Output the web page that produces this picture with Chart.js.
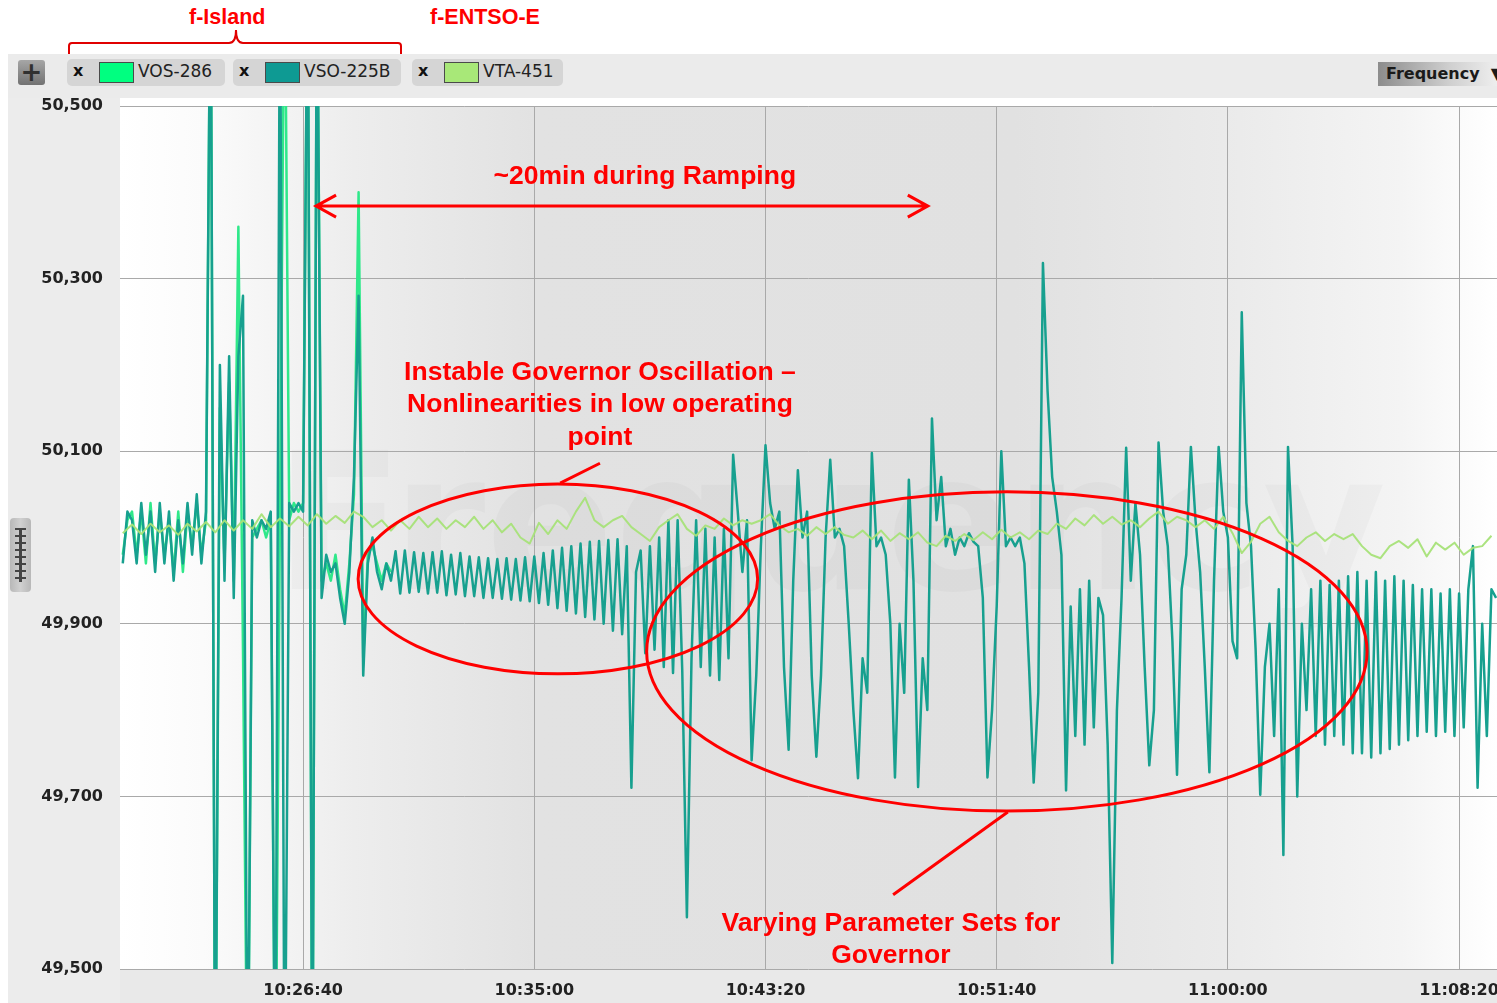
<!DOCTYPE html>
<html lang="en">
<head>
<meta charset="UTF-8">
<title>Frequency</title>
<script src="https://cdn.jsdelivr.net/npm/chart.js"></script>
<style>
  body { margin: 0; background: #fff; width: 1497px; height: 1003px; overflow: hidden; position: relative; font-family: "DejaVu Sans", sans-serif; }
  .red { position: absolute; color: #ff0000; font: bold 21.5px "Liberation Sans", Arial, sans-serif; }
  #bar { position: absolute; left: 8px; top: 54px; width: 1489px; height: 44px; background: #ebebeb; }
  #side { position: absolute; left: 8px; top: 98px; width: 112px; height: 905px; background: #ececec; }
  .plus { position: absolute; left: 18px; top: 60px; width: 27px; height: 25px; border-radius: 3px;
          background: linear-gradient(#a6a6a6, #727272); color: #303030; font: bold 26px "DejaVu Sans"; line-height: 24px; text-align: center; }
  .chip { position: absolute; top: 59px; height: 27px; border-radius: 5px; background: #d5d5d5; }
  .chip .x { position: absolute; left: 6px; top: 2px; font: bold 16px "DejaVu Sans"; color: #111; }
  .chip .box { position: absolute; left: 32px; top: 3px; width: 33px; height: 19px; border: 1px solid #4a4a4a; }
  .chip .lbl { position: absolute; left: 71px; top: 2px; font: 17px "DejaVu Sans"; color: #222; }
  #freq { position: absolute; left: 1378px; top: 62px; width: 119px; height: 24px;
          background: linear-gradient(90deg, #8c8c8c, #cfcfcf 60%, #eeeeee); font: bold 16px "DejaVu Sans"; color: #1a1a1a; line-height: 24px; padding-left: 8px; box-sizing: border-box; white-space: nowrap; overflow: hidden; }
  #ruler { position: absolute; z-index: 2; left: 10px; top: 518px; width: 21px; height: 74px; border-radius: 4px;
           background: linear-gradient(90deg, #b8b8b8, #d0d0d0, #b8b8b8); }
  #ruler .stem { position: absolute; left: 9px; top: 10px; width: 3px; height: 54px; background: #444; }
  #ruler .ticks { position: absolute; left: 5px; top: 10px; width: 11px; height: 54px;
                  background: repeating-linear-gradient(#444 0 2px, transparent 2px 7px); }
  canvas { position: absolute; left: 8px; top: 98px; z-index: 1; }
</style>
</head>
<body>
  <div class="red" style="left:189px; top:5px;">f-Island</div>
  <div class="red" style="left:430px; top:5px;">f-ENTSO-E</div>
  <svg style="position:absolute; left:0; top:0;" width="420" height="60">
    <path d="M69 58 L69 46 Q69 43 72 43 L229 43 Q236 43 236 30 Q236 43 243 43 L398 43 Q401 43 401 46 L401 58"
          fill="none" stroke="#e00000" stroke-width="2"/>
  </svg>

  <div id="bar"></div>
  <div id="side"></div>
  <div class="plus">+</div>
  <div class="chip" style="left:67px; width:158px;"><span class="x">x</span><span class="box" style="background:#00ff80"></span><span class="lbl">VOS-286</span></div>
  <div class="chip" style="left:233px; width:168px;"><span class="x">x</span><span class="box" style="background:#0e9a93"></span><span class="lbl">VSO-225B</span></div>
  <div class="chip" style="left:412px; width:151px;"><span class="x">x</span><span class="box" style="background:#a8e878"></span><span class="lbl">VTA-451</span></div>
  <div id="freq">Frequency &nbsp;▼</div>
  <div id="ruler"><div class="ticks"></div><div class="stem"></div></div>

  <canvas id="freqChart" width="1489" height="905"></canvas>

<script>
// time axis in seconds of the day, frequency in Hz
const xTicks = [37600, 38100, 38600, 39100, 39600, 40100];
const yTicks = [49.5, 49.7, 49.9, 50.1, 50.3, 50.5];

const tStart = 37210;   // first sample
const dtIsland = 10;    // s between island samples
const dtEntso = 20;     // s between ENTSO-E samples

// VSO-225B (f-Island)
const vso225b = [
  49.97, 50.03, 50.02, 49.97, 50.04, 49.98, 50.03, 49.96, 50.04, 49.97,
  50.03, 49.95, 50.02, 49.97, 50.04, 49.98, 50.05, 49.97, 50.03, 50.7,
  49.3, 50.20, 49.95, 50.21, 49.93, 50.21, 50.28, 49.3, 50.02, 50.00,
  50.02, 50.01, 50.03, 49.3, 50.7, 49.3, 50.04, 50.03, 50.04, 50.03,
  50.7, 49.3, 50.7, 49.93, 49.98, 49.96, 49.97, 49.93, 49.90, 49.96,
  50.07, 50.28, 49.84, 49.97, 50.00, 49.96, 49.94, 49.97, 49.95, 49.984,
  49.935, 49.985, 49.936, 49.983, 49.937, 49.982, 49.935, 49.983, 49.936, 49.984,
  49.933, 49.980, 49.934, 49.982, 49.932, 49.978, 49.932, 49.977, 49.930, 49.976,
  49.930, 49.975, 49.929, 49.976, 49.928, 49.975, 49.927, 49.977, 49.926, 49.978,
  49.924, 49.982, 49.922, 49.985, 49.918, 49.988, 49.915, 49.990, 49.912, 49.993,
  49.908, 49.995, 49.905, 49.996, 49.900, 49.997, 49.892, 49.998, 49.888, 49.99,
  49.71, 49.96, 49.985, 49.866, 49.99, 49.87, 50.00, 49.85, 50.02, 49.843,
  50.02, 49.845, 49.56, 49.86, 50.02, 49.85, 50.01, 49.84, 50.00, 49.835,
  50.01, 49.86, 50.096, 50.03, 49.96, 50.02, 49.742, 49.84, 49.99, 50.107,
  50.04, 50.01, 50.03, 49.85, 49.754, 49.95, 50.078, 50.00, 50.03, 49.84,
  49.746, 49.84, 50.00, 50.09, 50.00, 50.01, 49.99, 49.90, 49.80, 49.721,
  49.86, 49.82, 50.098, 49.99, 50.00, 49.98, 49.90, 49.722, 49.90, 49.82,
  50.067, 49.95, 49.711, 49.86, 49.80, 50.138, 50.02, 50.07, 49.99, 50.01,
  49.98, 50.00, 49.99, 50.005, 49.995, 49.99, 49.93, 49.722, 49.80, 49.92,
  50.10, 49.99, 50.00, 49.99, 50.00, 49.97, 49.85, 49.716, 49.82, 50.318,
  50.17, 50.07, 50.03, 49.98, 49.707, 49.92, 49.77, 49.94, 49.76, 49.95,
  49.78, 49.93, 49.91, 49.76, 49.507, 49.80, 49.93, 50.104, 49.95, 50.04,
  49.98, 49.85, 49.736, 49.80, 50.11, 50.03, 49.99, 49.88, 49.725, 49.94,
  49.98, 50.105, 50.02, 49.96, 49.85, 49.728, 49.95, 50.105, 50.03, 50.00,
  49.88, 49.86, 50.261, 50.04, 49.99, 49.87, 49.702, 49.85, 49.90, 49.77,
  49.94, 49.632, 50.105, 49.99, 49.70, 49.90, 49.80, 49.94, 49.77, 49.95,
  49.76, 49.945, 49.77, 49.95, 49.76, 49.955, 49.75, 49.96, 49.75, 49.95,
  49.745, 49.96, 49.75, 49.95, 49.755, 49.955, 49.76, 49.95, 49.765, 49.945,
  49.77, 49.94, 49.775, 49.94, 49.77, 49.935, 49.775, 49.94, 49.77, 49.935,
  49.78, 49.94, 49.99, 49.71, 49.90, 49.77, 49.94, 49.93
];

// VOS-286 (f-Island), only visible apart from VSO-225B at the start
const vos286 = [
  49.98, 50.02, 50.03, 49.98, 50.03, 49.97, 50.04, 49.97, 50.03, 49.98,
  50.02, 49.96, 50.03, 49.96, 50.03, 49.99, 50.04, 49.98, 50.02, 50.7,
  49.3, 50.15, 49.97, 50.18, 49.95, 50.36, 49.87, 49.3, 50.00, 50.01,
  50.02, 50.00, 50.02, 49.3, 50.03, 50.7, 50.02, 50.04, 50.03, 50.04,
  50.7, 49.3, 50.7, 49.95, 49.97, 49.95, 49.98, 49.94, 49.91, 49.97,
  50.05, 50.40, 49.86, 49.98, 49.99, 49.97, 49.95, 49.97, 49.96
];

// VTA-451 (f-ENTSO-E)
const vta451 = [
  50.005, 50.015, 50.004, 50.016, 50.006, 50.014, 50.003, 50.016, 50.007, 50.018,
  50.006, 50.020, 50.008, 50.020, 50.010, 50.027, 50.012, 50.022, 50.013, 50.024,
  50.014, 50.027, 50.016, 50.025, 50.017, 50.030, 50.024, 50.012, 50.020, 50.008,
  50.020, 50.010, 50.024, 50.012, 50.022, 50.010, 50.020, 50.012, 50.024, 50.010,
  50.020, 50.006, 50.016, 50.000, 49.993, 50.017, 50.004, 50.020, 50.010, 50.030,
  50.046, 50.020, 50.012, 50.020, 50.025, 50.012, 50.004, 49.996, 50.012, 50.020,
  50.027, 50.010, 50.002, 50.014, 50.010, 50.022, 50.014, 50.020, 50.016, 50.020,
  50.027, 50.014, 50.006, 50.010, 50.002, 50.012, 50.004, 50.012, 50.003, 50.000,
  50.008, 49.998, 50.008, 49.996, 50.005, 49.998, 50.006, 49.994, 49.990, 50.002,
  49.996, 50.004, 49.997, 50.006, 49.998, 50.009, 50.000, 50.006, 49.998, 50.008,
  50.004, 50.016, 50.010, 50.022, 50.014, 50.026, 50.016, 50.024, 50.015, 50.020,
  50.012, 50.022, 50.030, 50.016, 50.024, 50.020, 50.012, 50.020, 50.010, 50.024,
  50.005, 49.982, 49.995, 50.016, 50.024, 50.006, 49.996, 49.990, 50.000, 50.006,
  49.996, 50.004, 49.998, 50.004, 49.990, 49.980, 49.976, 49.990, 49.996, 49.988,
  49.998, 49.978, 49.994, 49.986, 49.994, 49.980, 49.988, 49.990, 50.002
];

function toPoints(arr, dt) {
  return arr.map((v, i) => ({ x: tStart + i * dt, y: v }));
}

function hms(sec) {
  const h = Math.floor(sec / 3600), m = Math.floor(sec % 3600 / 60), s = sec % 60;
  return h + ':' + String(m).padStart(2, '0') + ':' + String(s).padStart(2, '0');
}

// annotations, in axis units
const red = '#ff0000';
const annoFont = 'bold 26.5px "Liberation Sans", Arial, sans-serif';

const backgroundPlugin = {
  id: 'bg',
  beforeDraw(chart) {
    const { ctx, chartArea: a } = chart;
    ctx.save();
    ctx.fillStyle = '#e9e9e9';
    ctx.fillRect(a.left, a.bottom, a.right - a.left, chart.height - a.bottom);
    const g = ctx.createLinearGradient(a.left, 0, a.right, 0);
    g.addColorStop(0, '#ffffff');
    g.addColorStop(0.06, '#fbfbfb');
    g.addColorStop(0.17, '#ededed');
    g.addColorStop(0.3, '#e2e2e2');
    g.addColorStop(0.65, '#e1e1e1');
    g.addColorStop(0.8, '#eaeaea');
    g.addColorStop(0.93, '#f4f4f4');
    g.addColorStop(1, '#ffffff');
    ctx.fillStyle = g;
    ctx.fillRect(a.left, a.top, a.right - a.left, a.bottom - a.top);
    // faint watermark
    const xs = chart.scales.x, ys = chart.scales.y;
    ctx.fillStyle = 'rgba(0,0,0,0.022)';
    ctx.font = 'bold 190px "DejaVu Sans", sans-serif';
    ctx.textAlign = 'center';
    ctx.textBaseline = 'middle';
    ctx.fillText('Frequency', xs.getPixelForValue(38740), ys.getPixelForValue(49.997));
    ctx.restore();
  }
};

const annotationPlugin = {
  id: 'notes',
  afterDraw(chart) {
    const { ctx } = chart;
    const xs = chart.scales.x, ys = chart.scales.y;
    const px = t => xs.getPixelForValue(t);
    const py = f => ys.getPixelForValue(f);
    ctx.save();
    ctx.strokeStyle = red;
    ctx.fillStyle = red;
    ctx.lineWidth = 3;

    // ellipses
    [[38151, 49.952, 432, 0.110], [39122, 49.868, 779, 0.185]].forEach(([t, f, dt, df]) => {
      const cx = px(t), cy = py(f);
      ctx.beginPath();
      ctx.ellipse(cx, cy, px(t + dt) - cx, cy - py(f + df), 0, 0, Math.PI * 2);
      ctx.stroke();
    });

    // leader lines
    ctx.beginPath();
    ctx.moveTo(px(38242), py(50.086)); ctx.lineTo(px(38156), py(50.063));
    ctx.moveTo(px(39124), py(49.682)); ctx.lineTo(px(38876), py(49.586));
    ctx.stroke();

    // double arrow
    const ay = py(50.384), ax1 = px(37628), ax2 = px(38951);
    ctx.beginPath();
    ctx.moveTo(ax1, ay); ctx.lineTo(ax2, ay);
    ctx.moveTo(ax1 + 20, ay - 11); ctx.lineTo(ax1, ay); ctx.lineTo(ax1 + 20, ay + 11);
    ctx.moveTo(ax2 - 20, ay - 11); ctx.lineTo(ax2, ay); ctx.lineTo(ax2 - 20, ay + 11);
    ctx.stroke();

    // texts
    ctx.font = annoFont;
    ctx.textAlign = 'center';
    ctx.textBaseline = 'middle';
    ctx.fillText('~20min during Ramping', px(38339), py(50.418));
    ctx.fillText('Instable Governor Oscillation \u2013', px(38242), py(50.191));
    ctx.fillText('Nonlinearities in low operating', px(38242), py(50.154));
    ctx.fillText('point', px(38242), py(50.116));
    ctx.fillText('Varying Parameter Sets for', px(38871), py(49.552));
    ctx.fillText('Governor', px(38871), py(49.515));
    ctx.restore();
  }
};

const tickFont = { family: '"DejaVu Sans", sans-serif', size: 16, weight: 'bold' };

new Chart(document.getElementById('freqChart').getContext('2d'), {
  type: 'line',
  data: {
    datasets: [
      {
        label: 'VTA-451',
        data: toPoints(vta451, dtEntso),
        borderColor: 'rgba(166,226,120,0.95)',
        borderWidth: 2,
        order: 0
      },
      {
        label: 'VSO-225B',
        data: toPoints(vso225b, dtIsland),
        borderColor: '#17a08f',
        borderWidth: 2.5,
        order: 1
      },
      {
        label: 'VOS-286',
        data: toPoints(vos286, dtIsland),
        borderColor: '#2fe88a',
        borderWidth: 2.5,
        order: 2
      }
    ]
  },
  options: {
    responsive: false,
    animation: false,
    layout: { padding: { top: 8, left: 0, right: 0, bottom: 0 } },
    elements: {
      point: { radius: 0 },
      line: { tension: 0, borderJoinStyle: 'round', fill: false }
    },
    plugins: { legend: { display: false }, tooltip: { enabled: false } },
    scales: {
      x: {
        type: 'linear',
        min: 37204,
        max: 40182,
        afterBuildTicks: s => { s.ticks = xTicks.map(v => ({ value: v })); },
        afterFit: s => { s.height = 34; s.paddingLeft = 0; s.paddingRight = 0; },
        grid: { color: '#a9a9a9', lineWidth: 1, drawTicks: false },
        border: { display: false },
        ticks: {
          font: tickFont, color: '#222', padding: 12, maxRotation: 0,
          callback: v => hms(v)
        }
      },
      y: {
        min: 49.5,
        max: 50.5,
        afterBuildTicks: s => { s.ticks = yTicks.map(v => ({ value: v })); },
        afterFit: s => { s.width = 112; s.paddingTop = 0; s.paddingBottom = 0; },
        grid: { color: '#a9a9a9', lineWidth: 1, drawTicks: false },
        border: { display: false },
        ticks: {
          font: tickFont, color: '#222', padding: 17,
          callback: v => v.toFixed(3).replace('.', ',')
        }
      }
    }
  },
  plugins: [backgroundPlugin, annotationPlugin]
});
</script>
</body>
</html>
